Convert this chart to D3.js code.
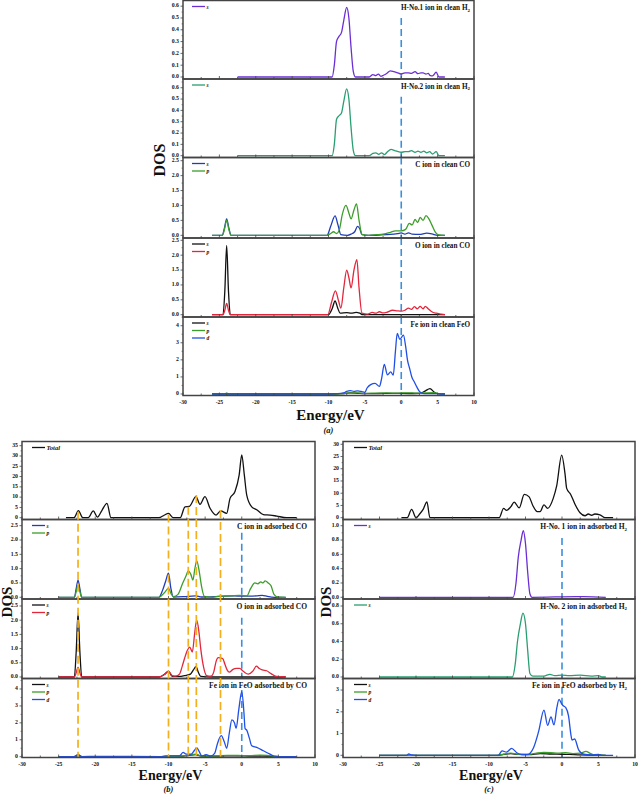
<!DOCTYPE html>
<html><head><meta charset="utf-8">
<script src="https://cdn.jsdelivr.net/npm/d3@7"></script>
<style>
body{margin:0;background:#fff}
svg{display:block}
text{font-family:"Liberation Serif","Times New Roman",serif;font-weight:bold;fill:#111}
</style>
</head><body>
<svg id="chart" width="640" height="796"></svg>
<script>
// energy axis
const energyTicks = [-30, -25, -20, -15, -10, -5, 0, 5, 10];

// y tick labels
const ticksH = [0, 0.1, 0.2, 0.3, 0.4, 0.5, 0.6];
const ticksCO = [0, 0.5, 1.0, 1.5, 2.0, 2.5];
const ticksFe = [0, 1, 2, 3, 4];
const ticksTotB = [0, 5, 10, 15, 20, 25, 30, 35];
const ticksTotC = [0, 5, 10, 15, 20, 25, 30];
const ticksH1c = [0, 0.2, 0.4, 0.6, 0.8, 1.0];
const ticksH2c = [0, 0.2, 0.4, 0.6, 0.8];
const ticksFeC = [0, 1, 2, 3];

// (a) clean
const aH1s = [[-22.5,0],[-9.5,0],[-9.2,0.1],[-8.9,0.3],[-8.6,0.34],[-8.2,0.38],[-7.9,0.48],[-7.5,0.59],[-7.2,0.5],[-6.9,0.25],[-6.6,0.05],[-6.3,0],[-4.4,0],[-3.9,0.02],[-3.5,0.012],[-3.15,0.025],[-2.8,0.006],[-2.45,0.015],[-2.0,0.03],[-1.5,0.052],[-1.0,0.045],[-0.6,0.038],[0,0.025],[0.5,0.035],[1.0,0.035],[1.4,0.03],[1.9,0.045],[2.3,0.028],[2.7,0.035],[3.0,0.035],[3.4,0.025],[3.7,0.03],[4.0,0.012],[4.3,0.01],[4.8,0.04],[5.2,0],[6,0]];
const aH2s = [[-22.5,0],[-9.5,0],[-9.2,0.1],[-8.9,0.32],[-8.6,0.35],[-8.2,0.38],[-7.9,0.48],[-7.5,0.59],[-7.2,0.5],[-6.9,0.25],[-6.6,0.05],[-6.3,0],[-4.4,0],[-3.9,0.02],[-3.5,0.025],[-3.1,0.012],[-2.7,0.025],[-2.3,0.01],[-1.9,0.035],[-1.4,0.055],[-0.9,0.045],[-0.4,0.035],[0,0.03],[0.5,0.035],[1.0,0.035],[1.4,0.045],[1.9,0.03],[2.3,0.04],[2.7,0.03],[3.1,0.04],[3.5,0.025],[3.9,0.035],[4.3,0.015],[4.8,0.035],[5.2,0],[6,0]];
const aCs = [[-26,0],[-24.6,0],[-24.3,0.25],[-24.0,0.55],[-23.7,0.25],[-23.4,0],[-10.2,0],[-9.7,0.3],[-9.1,0.65],[-8.7,0.35],[-8.3,0.02],[-7.4,0],[-6.9,0.04],[-6.4,0.12],[-6.0,0.3],[-5.7,0.22],[-5.4,0.02],[-4.5,0],[-3,0.01],[-1.5,0.03],[-0.5,0.06],[0,0.08],[0.5,0.04],[1.0,0.08],[1.5,0.04],[2.5,0.03],[3.5,0.07],[4.2,0.05],[5,0],[6,0]];
const aCp = [[-26,0],[-24.6,0],[-24.3,0.2],[-24.0,0.5],[-23.7,0.2],[-23.4,0],[-10.2,0],[-9.7,0.06],[-9.3,0.12],[-8.9,0.06],[-8.5,0.2],[-8.1,0.7],[-7.6,1.0],[-7.2,0.75],[-6.9,0.55],[-6.5,0.85],[-6.15,1.05],[-5.8,0.5],[-5.4,0.03],[-4.5,0],[-3.4,0.02],[-2.5,0.04],[-1.5,0.1],[-0.8,0.15],[0,0.15],[0.6,0.2],[1.1,0.4],[1.5,0.35],[1.9,0.53],[2.25,0.43],[2.6,0.6],[3.0,0.5],[3.4,0.66],[3.8,0.55],[4.2,0.35],[4.7,0.1],[5.2,0.01],[6,0]];
const aOs = [[-26,0],[-24.5,0],[-24.25,0.8],[-24.0,2.33],[-23.75,0.8],[-23.5,0],[-10.0,0],[-9.5,0.2],[-9.1,0.46],[-8.7,0.2],[-8.4,0.05],[-7.5,0.07],[-6.9,0.05],[-6.2,0.08],[-5.7,0.05],[-5.3,0],[6,0]];
const aOp = [[-26,0],[-24.5,0],[-24.25,0.15],[-24.0,0.38],[-23.75,0.15],[-23.5,0],[-10.1,0],[-9.6,0.4],[-9.05,0.8],[-8.6,0.45],[-8.3,0.22],[-7.9,0.9],[-7.5,1.5],[-7.2,1.25],[-6.9,0.9],[-6.5,1.5],[-6.1,1.85],[-5.8,0.9],[-5.4,0.05],[-4.6,0.02],[-4.0,0.08],[-3.5,0.05],[-3.0,0.1],[-2.5,0.06],[-2.0,0.08],[-1.2,0.15],[-0.5,0.13],[0,0.12],[0.5,0.15],[1.0,0.22],[1.4,0.18],[1.8,0.27],[2.2,0.2],[2.6,0.28],[3.0,0.2],[3.3,0.28],[3.7,0.2],[4.2,0.1],[4.8,0.05],[5.5,0.02],[6,0]];
const aFes = [[-26,0],[-9,0],[-8,0.03],[-7,0.06],[-6,0.04],[-5,0.02],[-3,0.03],[-1,0.04],[1,0.03],[2.5,0.04],[3.2,0.15],[3.95,0.32],[4.5,0.12],[5,0.02],[6,0]];
const aFep = [[-26,0],[-24.3,0],[-24,0.05],[-23.7,0],[-9,0],[-7.5,0.05],[-6,0.06],[-5,0.04],[-3.5,0.05],[-2,0.06],[-0.5,0.05],[0.5,0.07],[1.5,0.06],[2.5,0.05],[3.5,0.07],[4.5,0.08],[5.2,0.01],[6,0]];
const aFed = [[-26,0],[-24.3,0],[-24,0.04],[-23.7,0],[-10,0],[-9,0.02],[-8,0.05],[-7.5,0.15],[-7.0,0.2],[-6.5,0.15],[-6.0,0.18],[-5.5,0.15],[-5.0,0.1],[-4.7,0.35],[-4.2,0.55],[-3.6,0.62],[-3.0,0.45],[-2.7,0.9],[-2.33,1.74],[-1.9,1.12],[-1.45,1.3],[-1.1,1.1],[-0.8,2.5],[-0.55,3.55],[-0.2,3.2],[0.3,3.45],[0.6,2.8],[0.85,2.0],[1.15,1.5],[1.45,1.0],[1.8,0.7],[2.15,0.4],[2.5,0.15],[2.8,0.05],[3.5,0.02],[5.0,0.02],[5.5,0],[6,0]];

// (b) CO adsorbed
const bTotal = [[-24,0],[-22.9,0],[-22.3,3.4],[-21.7,0],[-20.95,0],[-20.27,3.3],[-19.7,0.3],[-19.1,3.5],[-18.4,7.0],[-17.85,0],[-11.3,0],[-10.6,1.2],[-10.0,2.1],[-9.35,0],[-8.4,0],[-7.75,5.3],[-7.16,5.5],[-6.25,10.2],[-5.7,6.5],[-5.02,10.2],[-4.33,4.6],[-3.5,1.3],[-2.87,3.3],[-2.06,2.1],[-1.6,9.4],[-0.92,12.7],[-0.35,20.8],[0,30.5],[0.35,20.8],[0.68,11],[1.36,5.3],[2.04,3.9],[2.95,1.5],[3.86,1.3],[4.77,0.8],[6.1,0],[7.5,0]];
const bCs = [[-25,0],[-22.85,0],[-22.6,0.3],[-22.35,0.6],[-22.1,0.3],[-21.85,0],[-11.3,0],[-10.8,0.25],[-10.4,0.55],[-10.0,0.84],[-9.7,0.35],[-9.35,0.01],[-8,0.02],[-6.3,0.05],[-5.5,0.01],[-3,0.03],[-1,0.05],[0,0.04],[1,0.04],[2,0.05],[2.8,0.07],[3.5,0.03],[4.5,0],[6,0]];
const bCp = [[-25,0],[-22.85,0],[-22.6,0.2],[-22.35,0.42],[-22.1,0.2],[-21.85,0],[-11.3,0],[-10.6,0.15],[-10.0,0.31],[-9.6,0.1],[-9.3,0.02],[-8.7,0.1],[-8.05,0.5],[-7.6,0.75],[-7.3,0.92],[-6.95,0.8],[-6.67,0.6],[-6.4,1.0],[-6.15,1.27],[-5.8,0.9],[-5.5,0.4],[-5.1,0.03],[-4,0],[-3,0.04],[-1.5,0.05],[-0.3,0.07],[0.7,0.05],[1.2,0.3],[1.8,0.5],[2.2,0.47],[2.6,0.54],[2.9,0.5],[3.2,0.57],[3.6,0.5],[4.0,0.4],[4.4,0.1],[4.9,0.01],[6,0]];
const bOs = [[-25,0],[-22.85,0],[-22.6,0.9],[-22.35,2.25],[-22.1,0.9],[-21.85,0],[-11.3,0],[-10.5,0.1],[-10.0,0.21],[-9.5,0.02],[-8.5,0.02],[-7.8,0.05],[-7.0,0.1],[-6.6,0.25],[-6.25,0.36],[-5.9,0.15],[-5.6,0.02],[-4,0],[6,0]];
const bOp = [[-25,0],[-22.85,0],[-22.6,0.15],[-22.35,0.35],[-22.1,0.15],[-21.85,0],[-11.3,0],[-10.5,0.1],[-10.0,0.2],[-9.5,0.05],[-9.0,0.03],[-8.5,0.1],[-8.1,0.4],[-7.8,0.66],[-7.4,0.95],[-7.1,1.05],[-6.75,0.88],[-6.4,1.6],[-6.15,2.0],[-5.85,1.6],[-5.6,1.0],[-5.25,0.4],[-4.8,0.05],[-4.2,0.03],[-3.8,0.2],[-3.5,0.55],[-3.2,0.68],[-2.6,0.65],[-2.3,0.45],[-2.0,0.25],[-1.7,0.17],[-1.2,0.27],[-0.7,0.3],[-0.3,0.3],[0.2,0.2],[0.9,0.1],[1.5,0.2],[2.0,0.38],[2.4,0.3],[2.8,0.25],[3.4,0.22],[4.0,0.12],[4.7,0.02],[6,0]];
const bFes = [[-25,0],[-22.9,0],[-22.35,0.12],[-21.8,0],[-11,0],[-10,0.03],[-8,0.03],[-7.2,0.08],[-6.3,0.12],[-5.5,0.03],[-3,0.04],[-1,0.05],[1,0.04],[3,0.03],[4.5,0.01],[6,0]];
const bFep = [[-25,0],[-22.9,0],[-22.35,0.06],[-21.8,0],[-11,0],[-8,0.05],[-7.2,0.1],[-6.3,0.15],[-5.5,0.04],[-3.5,0.05],[-2,0.08],[-0.5,0.07],[1,0.06],[2.5,0.09],[3.5,0.07],[4.5,0.02],[6,0]];
const bFed = [[-25,0],[-22.9,0.01],[-22.35,0.05],[-21.8,0.01],[-20,0.02],[-11,0.01],[-10,0.05],[-8.5,0.05],[-8.0,0.26],[-7.6,0.15],[-6.9,0.15],[-6.5,0.35],[-6.15,0.53],[-5.8,0.3],[-5.45,0.05],[-4.85,0.12],[-4.3,0.03],[-3.7,0.2],[-3.3,0.8],[-2.8,1.24],[-2.4,0.9],[-2.05,0.5],[-1.7,1.4],[-1.35,2.17],[-1.0,2.0],[-0.77,1.67],[-0.4,2.8],[0.0,3.84],[0.3,2.6],[0.45,1.67],[0.68,1.57],[1.05,1.08],[1.36,0.65],[2.04,0.55],[2.95,0.35],[3.85,0.15],[4.5,0.03],[5.2,0],[7.5,0]];
const bMarkers = [-22.35, -10.0, -7.3, -6.2, -2.9];
const bMarkerTops = [2.9, 1.6, 5.3, 11, 3.7];

// (c) H2 adsorbed
const cTotal = [[-22,0],[-21.2,0],[-20.6,3.4],[-20.0,0],[-19.5,1.5],[-19.0,3.5],[-18.5,6.5],[-18.1,0],[-8.6,0],[-8.0,3.8],[-7.6,3.0],[-7.0,4.5],[-6.55,6.4],[-5.86,4.0],[-5.17,9.5],[-4.5,8.5],[-4.0,5.0],[-3.39,2.5],[-3.0,2.5],[-2.47,5.2],[-1.97,3.8],[-1.19,8.0],[-0.73,13],[-0.04,25.6],[0.41,18],[0.64,12],[1.19,9.5],[1.78,5.5],[2.47,2.0],[3.16,0.8],[3.6,1.5],[4.06,1.0],[4.5,1.5],[5.2,1.2],[5.9,0],[7,0]];
const cH1s = [[-25,0],[-6.7,0],[-6.3,0.2],[-6.0,0.55],[-5.6,0.8],[-5.3,0.93],[-5.0,0.75],[-4.7,0.35],[-4.4,0.05],[-4.1,0],[2,0.01],[3,0.01],[6,0]];
const cH2s = [[-25,0],[-6.8,0],[-6.4,0.15],[-6.1,0.4],[-5.7,0.6],[-5.35,0.72],[-5.0,0.6],[-4.7,0.3],[-4.4,0.04],[-4.0,0.01],[-2.5,0.01],[-1.65,0.03],[-1,0.015],[0,0.02],[1,0.015],[2.5,0.02],[4,0.01],[5,0.015],[5.5,0],[6,0]];
const cFes = [[-25,0],[-9,0],[-8,0.04],[-7,0.08],[-6,0.04],[-4.5,0.03],[-3,0.08],[-1.5,0.06],[0,0.05],[1,0.04],[2.5,0.02],[4,0.01],[6,0]];
const cFep = [[-25,0],[-9,0],[-8,0.05],[-7,0.1],[-6,0.05],[-4.5,0.05],[-3.5,0.1],[-2.5,0.13],[-1.5,0.12],[-0.5,0.1],[0.5,0.12],[1.5,0.08],[2.5,0.1],[3.3,0.18],[3.8,0.1],[4.5,0.02],[6,0]];
const cFed = [[-25,0],[-21.3,0],[-21,0.06],[-20.6,0.02],[-20,0],[-8.74,0],[-8.2,0.2],[-7.6,0.15],[-6.9,0.32],[-6.2,0.12],[-5.5,0.03],[-4.76,0.03],[-3.9,0.35],[-3.2,1.1],[-2.47,2.08],[-1.97,1.38],[-1.51,1.77],[-1.1,1.4],[-0.7,2.2],[-0.41,2.57],[-0.1,2.4],[0.1,2.3],[0.5,2.2],[0.9,1.8],[1.2,1.0],[1.37,0.7],[1.73,0.75],[2.28,0.25],[2.97,0.05],[4,0.02],[5,0.04],[5.5,0],[7,0]];

const COL = {
  purple: '#6a2fd4', teal: '#2a9e72', navy: '#1f3db8', green: '#3c9e2a',
  red: '#e2263c', black: '#111', blue: '#1f4fe6', fermi: '#3a8fe0', orange: '#f2b01e'
};

const svg = d3.select('#chart');
const fmt1 = d3.format('.1f'), fmt0 = d3.format('d');
let clipId = 0;

function drawPanel(p) {
  const x = d3.scaleLinear().domain([-30, 10]).range([p.left, p.right]);
  const ys = [];
  p.subs.forEach((s, i) => {
    const top = p.rows[i], bottom = p.rows[i + 1];
    const y = d3.scaleLinear().domain(s.domain).range([bottom, top]);
    ys.push(y);
    const g = svg.append('g');
    const id = 'clip' + (clipId++);
    svg.append('clipPath').attr('id', id).append('rect')
      .attr('x', p.left).attr('y', top).attr('width', p.right - p.left).attr('height', bottom - top);

    // fermi level
    if (s.fermi != null) {
      g.append('line')
        .attr('x1', x(0)).attr('x2', x(0))
        .attr('y1', y(s.fermi)).attr('y2', bottom)
        .attr('stroke', COL.fermi).attr('stroke-width', 1.6)
        .attr('stroke-dasharray', '7,4');
    }

    const line = d3.line().x(d => x(d[0])).y(d => y(d[1])).curve(d3.curveMonotoneX);
    const cg = g.append('g').attr('clip-path', `url(#${id})`);
    s.curves.forEach(c => {
      cg.append('path').attr('d', line(c.data))
        .attr('fill', 'none').attr('stroke', c.color).attr('stroke-width', 1.3)
        .attr('stroke-linejoin', 'round');
    });

    // frame
    g.append('rect').attr('x', p.left).attr('y', top)
      .attr('width', p.right - p.left).attr('height', bottom - top)
      .attr('fill', 'none').attr('stroke', '#444').attr('stroke-width', 1.5);

    // x ticks on every sub plot bottom
    d3.range(-30, 10.01, 2.5).forEach(v => {
      const major = v % 5 === 0;
      g.append('line').attr('x1', x(v)).attr('x2', x(v))
        .attr('y1', bottom).attr('y2', bottom - (major ? 3 : 2))
        .attr('stroke', '#444').attr('stroke-width', 0.8);
    });

    // y ticks
    const step = s.ticks[1] - s.ticks[0];
    s.ticks.forEach(v => {
      g.append('line').attr('x1', p.left).attr('x2', p.left - 2.5)
        .attr('y1', y(v)).attr('y2', y(v)).attr('stroke', '#444').attr('stroke-width', 0.8);
      if (v + step / 2 < s.domain[1]) {
        g.append('line').attr('x1', p.left).attr('x2', p.left - 1.5)
          .attr('y1', y(v + step / 2)).attr('y2', y(v + step / 2)).attr('stroke', '#444').attr('stroke-width', 0.6);
      }
      g.append('text').attr('x', p.left - 4).attr('y', y(v))
        .attr('text-anchor', 'end').attr('dominant-baseline', 'middle')
        .attr('font-size', 5.8).text(s.fmt(v));
    });

    // legend
    s.curves.forEach((c, k) => {
      const ly = top + 6 + k * 7.5;
      const lx = p.left + p.legendDx;
      g.append('line').attr('x1', lx).attr('x2', lx + 13).attr('y1', ly).attr('y2', ly)
        .attr('stroke', c.color).attr('stroke-width', 1.3);
      g.append('text').attr('x', lx + 14.5).attr('y', ly + 2)
        .attr('font-size', c.name === 'Total' ? 6.5 : 5.5).attr('font-style', 'italic')
        .text(c.name);
    });

    // title
    if (s.title) {
      const t = g.append('text').attr('x', p.right - p.titleDx).attr('y', top + 9.5)
        .attr('text-anchor', 'end').attr('font-size', p.titleSize);
      t.append('tspan').text(s.title);
      if (s.sub) {
        t.append('tspan').attr('font-size', 5).attr('dy', 1.5).text(s.sub);
      }
    }
  });

  const bottom = p.rows[p.rows.length - 1];
  energyTicks.forEach(v => {
    svg.append('text').attr('x', x(v)).attr('y', bottom + 8.5)
      .attr('text-anchor', 'middle').attr('font-size', 5.6).text(v);
  });
  svg.append('text').attr('x', (p.left + p.right) / 2 + 2).attr('y', bottom + p.xlabDy)
    .attr('text-anchor', 'middle').attr('font-size', p.xlabSize).text('Energy/eV');
  svg.append('text').attr('transform', `translate(${p.dosX},${p.dosY}) rotate(-90)`)
    .attr('text-anchor', 'middle').attr('font-size', p.dosSize).text('DOS');
  svg.append('text').attr('x', (p.left + p.right) / 2).attr('y', bottom + p.tagDy)
    .attr('text-anchor', 'middle').attr('font-size', 8.5).attr('font-weight', 'normal')
    .attr('font-style', 'italic').text(p.tag);

  if (p.markers) {
    p.markers.forEach((m, i) => {
      svg.append('line').attr('x1', x(m)).attr('x2', x(m))
        .attr('y1', ys[0](p.markerTops[i])).attr('y2', bottom - 1)
        .attr('stroke', COL.orange).attr('stroke-width', 1.7)
        .attr('stroke-dasharray', '8,4');
    });
  }
}

drawPanel({
  left: 183, right: 474, rows: [0.5, 79, 157.5, 238, 317, 395.5],
  legendDx: 9, titleDx: 4, titleSize: 7.2, xlabDy: 24.5, xlabSize: 15, tagDy: 37.5, tag: '(a)',
  dosX: 165, dosY: 160, dosSize: 16,
  subs: [
    { domain: [-0.017, 0.648], ticks: ticksH, fmt: fmt1, fermi: 0.5,
      title: 'H-No.1 ion in clean H', sub: '2',
      curves: [{ name: 's', color: COL.purple, data: aH1s }] },
    { domain: [-0.016, 0.677], ticks: ticksH, fmt: fmt1, fermi: 0.52,
      title: 'H-No.2 ion in clean H', sub: '2',
      curves: [{ name: 's', color: COL.teal, data: aH2s }] },
    { domain: [-0.09, 2.607], ticks: ticksCO, fmt: fmt1, fermi: 2.607,
      title: 'C ion in clean CO',
      curves: [{ name: 's', color: COL.navy, data: aCs }, { name: 'p', color: COL.green, data: aCp }] },
    { domain: [-0.077, 2.577], ticks: ticksCO, fmt: fmt1, fermi: 2.577,
      title: 'O ion in clean CO',
      curves: [{ name: 's', color: COL.black, data: aOs }, { name: 'p', color: COL.red, data: aOp }] },
    { domain: [-0.088, 4.51], ticks: ticksFe, fmt: fmt0, fermi: 4.51,
      title: 'Fe ion in clean FeO',
      curves: [{ name: 's', color: COL.black, data: aFes }, { name: 'p', color: COL.green, data: aFep }, { name: 'd', color: COL.blue, data: aFed }] }
  ]
});

drawPanel({
  left: 22, right: 315, rows: [441.5, 519.5, 599, 678.5, 757.5],
  legendDx: 10, titleDx: 8, titleSize: 7.5, xlabDy: 22.5, xlabSize: 14, tagDy: 34.5, tag: '(b)',
  dosX: 12, dosY: 602, dosSize: 15,
  markers: bMarkers, markerTops: bMarkerTops,
  subs: [
    { domain: [-0.87, 37.04], ticks: ticksTotB, fmt: fmt0,
      curves: [{ name: 'Total', color: COL.black, data: bTotal }] },
    { domain: [-0.06, 2.716], ticks: ticksCO, fmt: fmt1, fermi: 2.25,
      title: 'C ion in adsorbed CO',
      curves: [{ name: 's', color: COL.navy, data: bCs }, { name: 'p', color: COL.green, data: bCp }] },
    { domain: [-0.053, 2.746], ticks: ticksCO, fmt: fmt1, fermi: 2.09,
      title: 'O ion in adsorbed CO',
      curves: [{ name: 's', color: COL.black, data: bOs }, { name: 'p', color: COL.red, data: bOp }] },
    { domain: [-0.047, 4.62], ticks: ticksFe, fmt: fmt0, fermi: 3.94,
      title: 'Fe ion in FeO adsorbed by CO',
      curves: [{ name: 's', color: COL.black, data: bFes }, { name: 'p', color: COL.green, data: bFep }, { name: 'd', color: COL.blue, data: bFed }] }
  ]
});

drawPanel({
  left: 343, right: 635, rows: [441.5, 519.5, 599, 678.5, 757.5],
  legendDx: 11, titleDx: 8, titleSize: 7.5, xlabDy: 22.5, xlabSize: 14, tagDy: 34.5, tag: '(c)',
  dosX: 331, dosY: 602, dosSize: 15,
  subs: [
    { domain: [-0.74, 31.14], ticks: ticksTotC, fmt: fmt0,
      curves: [{ name: 'Total', color: COL.black, data: cTotal }] },
    { domain: [-0.024, 1.087], ticks: ticksH1c, fmt: fmt1, fermi: 0.83,
      title: 'H-No. 1 ion in adsorbed H', sub: '2',
      curves: [{ name: 's', color: COL.purple, data: cH1s }] },
    { domain: [-0.017, 0.879], ticks: ticksH2c, fmt: fmt1, fermi: 0.66,
      title: 'H-No. 2 ion in adsorbed H', sub: '2',
      curves: [{ name: 's', color: COL.teal, data: cH2s }] },
    { domain: [-0.1, 3.53], ticks: ticksFeC, fmt: fmt0, fermi: 3.15,
      title: 'Fe ion in FeO adsorbed by H', sub: '2',
      curves: [{ name: 's', color: COL.black, data: cFes }, { name: 'p', color: COL.green, data: cFep }, { name: 'd', color: COL.blue, data: cFed }] }
  ]
});
</script>
</body></html>
